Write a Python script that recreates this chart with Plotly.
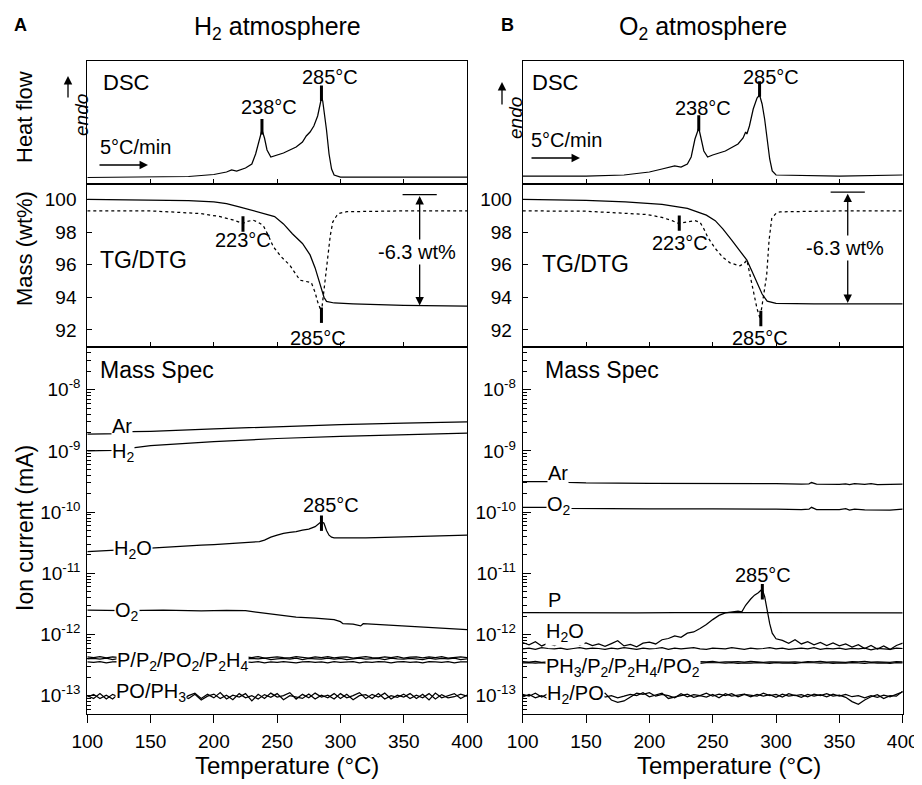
import plotly.graph_objects as go

# The page body has an 8px default margin: the figure is sized to fill the rest of the 922x785 window
OX, OY = 8, 8
W, H = 922 - OX, 785 - OY
FONT = "Liberation Sans, Arial, sans-serif"

# ---------------- DATA ----------------
# DSC (arbitrary heat-flow units)
T_dsc_A = [100, 150, 180, 200, 210, 214, 218, 225, 230, 233, 236, 238, 240, 242, 245, 250, 255, 260, 265, 270,
           273, 276, 279, 282, 284, 285, 286, 287, 289, 291, 293, 295, 298, 300, 350, 400]
dsc_A = [6.5, 6.8, 7.5, 9.5, 12, 14, 13, 16, 20, 30, 46, 54, 46, 34, 27, 29, 31, 34, 37, 42,
         48, 52, 58, 68, 80, 86, 83, 74, 54, 30, 15, 9, 7.5, 7, 7, 6.8]
T_dsc_B = [100, 150, 180, 200, 210, 220, 225, 230, 233, 236, 239, 241, 243, 246, 250, 260, 270, 274, 276, 277,
           279, 282, 285, 287, 289, 291, 293, 295, 297, 300, 350, 390, 400]
dsc_B = [8, 8, 9, 12, 15, 18, 17, 20, 27, 45, 56, 45, 33, 27, 29, 33, 40, 46, 52, 50,
         58, 75, 86, 89, 80, 65, 45, 25, 13, 9, 8, 8.5, 9]

# TG (solid) and DTG (dotted), wt%
T_tg_A = [100, 150, 180, 200, 210, 220, 230, 240, 248, 255, 262, 270, 276, 280, 284, 287, 289, 295, 310, 350, 400]
tg_A = [100.0, 99.98, 99.93, 99.85, 99.75, 99.55, 99.35, 99.15, 98.95, 98.5, 97.9, 97.3, 96.6, 95.8, 94.7, 94.0,
        93.75, 93.65, 93.6, 93.5, 93.45]
T_dtg_A = [100, 150, 189, 205, 215, 220.5, 223, 226, 231, 235, 239, 243, 247, 253, 260, 268, 274, 277, 280, 282,
           285, 287, 290, 292, 294, 297, 299, 305, 350, 400]
dtg_A = [99.3, 99.3, 99.14, 98.95, 98.75, 98.6, 98.53, 98.65, 98.73, 98.6, 98.4, 97.8, 97.1, 96.5, 95.97, 95.05,
         94.95, 94.9, 94.3, 93.72, 93.1, 94.5, 96.4, 97.8, 98.63, 99.0, 99.15, 99.25, 99.3, 99.3]

T_tg_B = [100, 150, 181, 210, 230, 245, 252, 258, 265, 271, 277, 281, 285, 289, 293, 300, 330, 400]
tg_B = [100.0, 99.95, 99.85, 99.7, 99.45, 99.04, 98.7, 98.2, 97.5, 96.9, 96.28, 95.6, 94.9, 94.2, 93.76, 93.62,
        93.6, 93.6]
T_dtg_B = [100, 150, 198, 210, 218, 223, 230, 236, 240, 243, 246, 252, 258, 264, 271.5, 275, 277, 280, 282, 285,
           287.4, 290, 292.6, 294.5, 296.6, 300, 303, 350, 400]
dtg_B = [99.3, 99.28, 99.08, 98.9, 98.7, 98.53, 98.62, 98.7, 98.6, 98.2, 97.7, 97.0, 96.45, 96.1, 95.93, 96.1,
         96.28, 95.2, 94.33, 93.3, 92.7, 94.0, 95.35, 97.5, 98.83, 99.15, 99.24, 99.3, 99.3]

# Mass spec, H2 atmosphere
T_ArA = [100, 127, 135, 150, 200, 250, 300, 350, 400]
Ar_A = [1.88e-9, 1.92e-9, 2.07e-9, 2.1e-9, 2.3e-9, 2.5e-9, 2.7e-9, 2.85e-9, 2.98e-9]
T_H2A = [100, 120, 136, 150, 200, 250, 300, 350, 400]
H2_A = [1.0e-9, 1.02e-9, 1.12e-9, 1.22e-9, 1.42e-9, 1.6e-9, 1.73e-9, 1.85e-9, 1.95e-9]
T_H2OA = [100, 110, 120, 130, 140, 150, 160, 170, 180, 190, 200, 210, 220, 230, 236, 240, 245, 250, 255, 260,
          265, 270, 275, 280, 283, 285, 287, 289, 291, 293, 295, 300, 320, 350, 380, 400]
H2O_A = [2.26e-11, 2.3e-11, 2.38e-11, 2.45e-11, 2.52e-11, 2.6e-11, 2.68e-11, 2.75e-11, 2.8e-11, 2.88e-11,
         2.95e-11, 3.05e-11, 3.18e-11, 3.32e-11, 3.3e-11, 3.5e-11, 3.9e-11, 4.2e-11, 4.5e-11, 4.65e-11,
         4.8e-11, 5.1e-11, 5.3e-11, 5.8e-11, 6.5e-11, 7.0e-11, 6.6e-11, 5.0e-11, 4.2e-11, 3.9e-11,
         3.8e-11, 3.78e-11, 3.8e-11, 3.95e-11, 4.1e-11, 4.2e-11]
T_O2A = [100, 130, 160, 190, 210, 225, 235, 245, 255, 265, 280, 295, 300, 302, 310, 316, 318, 330, 350, 370, 385, 400]
O2_A = [2.5e-12, 2.46e-12, 2.5e-12, 2.44e-12, 2.47e-12, 2.45e-12, 2.3e-12, 2.15e-12, 2.0e-12, 1.92e-12,
        1.85e-12, 1.75e-12, 1.62e-12, 1.5e-12, 1.48e-12, 1.38e-12, 1.5e-12, 1.45e-12, 1.4e-12, 1.32e-12,
        1.25e-12, 1.2e-12]

T5 = list(range(100, 401, 5))
# P / P2 / PO2 / P2H4 (units of 1e-13)
PA1 = [4.30, 4.20, 4.35, 4.15, 4.30, 4.25, 4.10, 4.30, 4.20, 4.35,
       4.15, 4.25, 4.30, 4.10, 4.25, 4.35, 4.20, 4.15, 4.30, 4.20,
       4.35, 4.10, 4.25, 4.30, 4.15, 4.30, 4.20, 4.35, 4.10, 4.25,
       4.30, 4.20, 4.15, 4.35, 4.25, 4.10, 4.30, 4.20, 4.35, 4.15,
       4.25, 4.30, 4.10, 4.25, 4.35, 4.20, 4.15, 4.30, 4.20, 4.35,
       4.10, 4.25, 4.30, 4.15, 4.30, 4.20, 4.35, 4.10, 4.25, 4.30,
       4.20]
PA2 = [4.00, 4.05, 3.95, 4.10, 3.90, 4.05, 4.00, 3.95, 4.10, 3.95,
       4.05, 3.90, 4.00, 4.10, 3.95, 4.00, 4.05, 3.90, 4.10, 4.00,
       3.95, 4.05, 4.00, 3.90, 4.10, 3.95, 4.05, 4.00, 4.10, 3.90,
       4.00, 4.05, 3.95, 4.10, 3.90, 4.05, 4.00, 3.95, 4.10, 3.95,
       4.05, 3.90, 4.00, 4.10, 3.95, 4.00, 4.05, 3.90, 4.10, 4.00,
       3.95, 4.05, 4.00, 3.90, 4.10, 3.95, 4.05, 4.00, 4.10, 3.90,
       4.00]
PA3 = [3.55, 3.50, 3.60, 3.45, 3.55, 3.60, 3.50, 3.55, 3.45, 3.60,
       3.50, 3.55, 3.60, 3.45, 3.55, 3.50, 3.60, 3.55, 3.45, 3.55,
       3.60, 3.50, 3.55, 3.45, 3.60, 3.55, 3.50, 3.60, 3.45, 3.55,
       3.50, 3.60, 3.55, 3.45, 3.55, 3.60, 3.50, 3.55, 3.45, 3.60,
       3.50, 3.55, 3.60, 3.45, 3.55, 3.50, 3.60, 3.55, 3.45, 3.55,
       3.60, 3.50, 3.55, 3.45, 3.60, 3.55, 3.50, 3.60, 3.45, 3.55,
       3.55]
# PO / PH3 (units of 1e-13)
POA1 = [1.00, 0.90, 1.08, 0.88, 1.05, 0.95, 1.10, 0.92, 1.02, 0.90,
        1.12, 0.85, 1.05, 0.95, 1.08, 0.88, 1.00, 1.10, 0.90, 1.05,
        0.92, 1.12, 0.88, 1.02, 0.95, 1.08, 0.82, 1.05, 0.90, 1.10,
        0.95, 1.00, 1.12, 0.88, 1.05, 0.92, 1.10, 0.95, 1.02, 0.88,
        1.08, 0.92, 1.00, 1.12, 0.90, 1.05, 0.95, 1.10, 0.88, 1.02,
        0.95, 1.08, 0.90, 1.05, 0.85, 1.10, 0.92, 1.00, 1.08, 0.90,
        1.02]
POA2 = [0.95, 1.05, 0.90, 1.02, 0.88, 1.08, 0.92, 1.00, 0.86, 1.06,
        0.94, 1.02, 0.88, 1.10, 0.92, 1.00, 0.90, 1.05, 0.85, 0.98,
        1.06, 0.90, 1.02, 0.86, 1.08, 0.92, 1.00, 0.88, 1.04, 0.94,
        1.08, 0.86, 1.00, 0.95, 0.90, 1.06, 0.88, 1.02, 0.92, 1.08,
        0.90, 1.05, 0.86, 1.00, 1.04, 0.90, 1.08, 0.88, 1.00, 0.94,
        1.06, 0.90, 1.02, 0.92, 1.08, 0.88, 1.04, 0.92, 0.96, 1.06,
        0.98]

# Mass spec, O2 atmosphere
T_ArB = [100, 125, 136, 150, 200, 250, 280, 300, 320, 326, 328, 332, 350, 355, 358, 362, 370, 375, 380, 390, 395, 400]
Ar_B = [3.16e-10, 3.16e-10, 3.06e-10, 3.0e-10, 2.95e-10, 2.93e-10, 2.98e-10, 2.92e-10, 2.88e-10, 2.9e-10,
        3.05e-10, 2.88e-10, 2.85e-10, 2.9e-10, 2.82e-10, 2.92e-10, 2.85e-10, 2.92e-10, 2.82e-10, 2.84e-10,
        2.82e-10, 2.88e-10]
T_O2B = [100, 125, 136, 150, 200, 250, 280, 300, 320, 326, 328, 332, 350, 355, 358, 362, 370, 380, 390, 400]
O2_B = [1.2e-10, 1.2e-10, 1.15e-10, 1.14e-10, 1.13e-10, 1.13e-10, 1.14e-10, 1.12e-10, 1.1e-10, 1.12e-10,
        1.2e-10, 1.1e-10, 1.1e-10, 1.14e-10, 1.08e-10, 1.12e-10, 1.09e-10, 1.08e-10, 1.08e-10, 1.12e-10]
T_PB = [100, 130, 160, 190, 220, 250, 280, 310, 340, 370, 395, 400]
P_B = [2.28e-12, 2.26e-12, 2.29e-12, 2.25e-12, 2.28e-12, 2.27e-12, 2.25e-12, 2.28e-12, 2.24e-12, 2.27e-12,
       2.22e-12, 2.26e-12]
T_H2OB = [100, 105, 110, 115, 120, 125, 130, 135, 140, 145, 150, 155, 160, 165, 170, 175, 180, 185, 190, 195,
          200, 205, 210, 215, 220, 225, 230, 235, 240, 245, 250, 255, 260, 265, 270, 273, 276, 280, 283, 286,
          289, 291, 293, 295, 297, 300, 305, 310, 315, 320, 325, 330, 335, 340, 345, 350, 355, 360, 365, 370,
          375, 380, 385, 390, 395, 400]
H2O_B = [7.4, 6.8, 7.6, 6.5, 7.2, 6.6, 7.5, 6.9, 7.8, 6.7, 7.3, 6.6, 7.0, 6.4, 7.1, 7.9, 6.5, 6.9, 6.3, 7.2,
         7.5, 7.0, 8.2, 8.6, 9.5, 9.0, 10.5, 11.0, 12.5, 14.5, 17.5, 20.5, 22.5, 23.0, 24.0, 23.5, 30.0, 38.0, 44.0, 48.0,
         55.0, 42.0, 25.0, 15.0, 10.5, 8.5, 8.0, 7.2, 8.2, 7.0, 7.6, 6.8, 7.4, 6.6, 7.3, 6.5, 7.0, 6.2, 6.8, 5.9,
         6.6, 5.8, 6.5, 5.7, 6.6, 7.2]
LB1 = [5.8, 6.0, 5.7, 6.1, 5.9, 5.8, 6.0, 5.7, 5.9, 6.1,
       5.8, 6.0, 5.9, 5.7, 6.0, 5.8, 6.1, 5.9, 5.7, 6.0,
       5.8, 5.9, 6.1, 5.7, 6.0, 5.8, 5.9, 6.1, 5.8, 5.7,
       6.0, 5.9, 5.8, 6.1, 5.9, 5.7, 6.0, 5.8, 5.9, 6.1,
       5.8, 6.0, 5.7, 5.9, 6.0, 5.8, 6.1, 5.7, 5.9, 5.8,
       6.0, 5.7, 5.9, 5.8, 6.0, 5.6, 5.9, 5.8, 5.7, 6.0,
       5.9]
PB1 = [3.60, 3.52, 3.62, 3.50, 3.58, 3.55, 3.62, 3.52, 3.60, 3.55,
       3.50, 3.60, 3.55, 3.62, 3.52, 3.58, 3.50, 3.60, 3.55, 3.62,
       3.52, 3.58, 3.55, 3.50, 3.62, 3.55, 3.58, 3.52, 3.60, 3.55,
       3.62, 3.50, 3.58, 3.55, 3.60, 3.52, 3.62, 3.55, 3.50, 3.58,
       3.55, 3.62, 3.52, 3.58, 3.50, 3.60, 3.55, 3.62, 3.52, 3.58,
       3.55, 3.50, 3.60, 3.55, 3.62, 3.52, 3.58, 3.55, 3.50, 3.60,
       3.55]
PB2 = [3.42, 3.48, 3.40, 3.46, 3.38, 3.45, 3.40, 3.48, 3.42, 3.38,
       3.46, 3.40, 3.44, 3.38, 3.48, 3.42, 3.45, 3.40, 3.46, 3.38,
       3.44, 3.40, 3.48, 3.42, 3.38, 3.46, 3.40, 3.44, 3.38, 3.48,
       3.42, 3.45, 3.40, 3.46, 3.38, 3.44, 3.40, 3.48, 3.42, 3.38,
       3.46, 3.40, 3.44, 3.38, 3.48, 3.42, 3.45, 3.40, 3.46, 3.38,
       3.44, 3.40, 3.48, 3.42, 3.38, 3.46, 3.40, 3.44, 3.38, 3.48,
       3.42]
HB1 = [1.05, 0.98, 1.10, 0.95, 1.08, 1.00, 1.12, 0.96, 1.05, 1.00,
       1.08, 0.95, 1.02, 1.10, 0.85, 0.78, 0.82, 0.95, 1.10, 1.05,
       1.12, 0.98, 1.05, 1.00, 0.92, 1.08, 0.96, 1.04, 1.00, 1.10,
       0.98, 1.06, 1.00, 1.08, 0.96, 1.05, 1.02, 0.98, 1.10, 1.00,
       1.05, 0.95, 1.08, 1.00, 1.04, 0.96, 1.06, 1.00, 1.08, 0.98,
       1.02, 0.94, 0.80, 0.72, 0.85, 0.96, 1.04, 0.90, 1.00, 0.98,
       1.18]
HB2 = [0.95, 1.05, 0.92, 1.00, 0.90, 1.06, 0.94, 1.02, 0.90, 1.05,
       0.95, 1.08, 1.12, 0.95, 1.00, 0.92, 0.98, 1.05, 1.00, 1.12,
       0.96, 1.04, 1.10, 0.90, 0.95, 1.02, 1.06, 0.94, 1.00, 0.95,
       1.05, 0.92, 1.08, 0.98, 1.02, 1.06, 0.96, 1.05, 0.98, 1.04,
       0.94, 1.06, 0.98, 1.02, 0.94, 1.05, 0.98, 1.04, 0.96, 1.06,
       0.98, 1.05, 0.96, 1.00, 0.92, 1.00, 0.94, 1.02, 0.96, 1.06,
       1.15]

# Peak markers (temperature, value)
dsc_marks_A = ([238, 285], [57.3, 90.7])
dsc_marks_B = ([239, 287], [61, 95])
dtg_marks_A = ([223, 285], [98.5, 92.9])
dtg_marks_B = ([223.6, 288], [98.55, 92.7])
ms_mark_A = ([285], [6.6e-11])
ms_mark_B = ([289.2], [5.0e-12])
mass_loss = 6.3

# ---------------- FIGURE ----------------
fig = go.Figure()
LW = 1.25


def line(x, y, ax, dash="solid", scale=1.0):
    fig.add_trace(go.Scatter(x=x, y=[v * scale for v in y], mode="lines",
                             line=dict(color="black", width=LW, dash=dash),
                             xaxis="x" + ax, yaxis="y" + ax, showlegend=False, hoverinfo="skip"))


def marks(m, ax):
    fig.add_trace(go.Scatter(x=m[0], y=m[1], mode="markers",
                             marker=dict(symbol="line-ns", size=11, line=dict(color="black", width=3)),
                             xaxis="x" + ax, yaxis="y" + ax, showlegend=False, hoverinfo="skip"))


# A: axes 1 (DSC), 2 (TG), 3 (MS); B: 4, 5, 6
line(T_dsc_A, dsc_A, "")
marks(dsc_marks_A, "")
line(T_tg_A, tg_A, "2")
line(T_dtg_A, dtg_A, "2", dash="dot")
marks(dtg_marks_A, "2")
line(T_ArA, Ar_A, "3")
line(T_H2A, H2_A, "3")
line(T_H2OA, H2O_A, "3")
line(T_O2A, O2_A, "3")
for s in (PA1, PA2, PA3, POA1, POA2):
    line(T5, s, "3", scale=1e-13)
marks(ms_mark_A, "3")

line(T_dsc_B, dsc_B, "4")
marks(dsc_marks_B, "4")
line(T_tg_B, tg_B, "5")
line(T_dtg_B, dtg_B, "5", dash="dot")
marks(dtg_marks_B, "5")
line(T_ArB, Ar_B, "6")
line(T_O2B, O2_B, "6")
line(T_PB, P_B, "6")
line(T_H2OB, H2O_B, "6", scale=1e-13)
for s in (LB1, PB1, PB2, HB1, HB2):
    line(T5, s, "6", scale=1e-13)
marks(ms_mark_B, "6")


def fx(x):
    return (x - OX) / W


def fy(y):
    return 1 - (y - OY) / H


XA = [fx(87.3), fx(467)]
XB = [fx(522.7), fx(902.7)]
Y_DSC = [fy(184), fy(61)]
Y_TG = [fy(347), fy(184)]
Y_MS = [fy(714), fy(347)]

tickfont = dict(family=FONT, size=19, color="black")
base_x = dict(range=[100, 400], showline=True, mirror=True, linecolor="black", linewidth=1,
              showgrid=False, zeroline=False, tickvals=[100, 150, 200, 250, 300, 350, 400],
              tickfont=tickfont, tickcolor="black", automargin=False)
ms_vals = [1e-13, 1e-12, 1e-11, 1e-10, 1e-9, 1e-8]
ms_text = ["10<sup>-13</sup>", "10<sup>-12</sup>", "10<sup>-11</sup>", "10<sup>-10</sup>",
           "10<sup>-9</sup>", "10<sup>-8</sup>"]

layout = dict(width=W, height=H, margin=dict(l=0, r=0, t=0, b=0, autoexpand=False),
              paper_bgcolor="white", plot_bgcolor="white", showlegend=False,
              font=dict(family=FONT, color="black"))

for i, (xd, row) in enumerate([(XA, 0), (XA, 1), (XA, 2), (XB, 0), (XB, 1), (XB, 2)]):
    n = "" if i == 0 else str(i + 1)
    xa = dict(base_x, domain=xd, anchor="y" + n)
    if row == 2:
        xa.update(ticks="outside", ticklen=8, showticklabels=True, ticklabelstandoff=2)
    else:
        xa.update(ticks="inside", ticklen=5, showticklabels=False)
    if row == 0:
        ya = dict(domain=Y_DSC, range=[0, 123], showticklabels=False, ticks="")
    elif row == 1:
        ya = dict(domain=Y_TG, range=[90.95, 100.95], tickvals=[92, 94, 96, 98, 100],
                  ticks="inside", ticklen=5, tickfont=tickfont, ticklabelstandoff=6)
    else:
        ya = dict(domain=Y_MS, type="log", range=[-13.3, -7.3], tickvals=ms_vals, ticktext=ms_text,
                  ticks="inside", ticklen=8, tickfont=tickfont, ticklabelstandoff=2,
                  minor=dict(ticks="inside", ticklen=4, dtick="D1", tickcolor="black", showgrid=False))
    ya.update(anchor="x" + n, showline=True, mirror=True, linecolor="black", linewidth=1,
              showgrid=False, zeroline=False, tickcolor="black", automargin=False)
    layout["xaxis" + n] = xa
    layout["yaxis" + n] = ya

fig.update_layout(**layout)

ann = []


def txt(x, y, s, size=20, **kw):
    d = dict(x=fx(x), y=fy(y), xref="paper", yref="paper", text=s, showarrow=False,
             font=dict(family=FONT, size=size, color="black"), xanchor="center", yanchor="middle")
    d.update(kw)
    ann.append(d)


def arrow(x0, y0, x1, y1):
    ann.append(dict(x=fx(x1), y=fy(y1), xref="paper", yref="paper", ax=x0 - x1, ay=y0 - y1, text="",
                    showarrow=True, arrowhead=2, arrowsize=1.3, arrowwidth=1.3, arrowcolor="black"))


WB = dict(bgcolor="white", borderpad=0)

# headers
txt(20, 25, "<b>A</b>", size=18)
txt(507, 25, "<b>B</b>", size=18)
txt(277, 28, "H<sub>2</sub> atmosphere", size=25)
txt(703, 28, "O<sub>2</sub> atmosphere", size=25)
# axis titles
txt(25, 117, "Heat flow", size=22, textangle=-90)
txt(25, 249, "Mass (wt%)", size=22, textangle=-90)
txt(25, 528, "Ion current (mA)", size=23, textangle=-90)
txt(287, 765, "Temperature (°C)", size=24)
txt(729, 765, "Temperature (°C)", size=24)

# DSC A
txt(126, 82, "DSC", size=22)
txt(269, 107, "238°C")
txt(330, 77, "285°C")
txt(135, 147, "5°C/min")
arrow(98, 165, 148, 165)
arrow(68, 99, 68, 76)
txt(81, 115, "<i>endo</i>", size=19, textangle=-90)
# DSC B
txt(555, 82, "DSC", size=22)
txt(703, 108, "238°C")
txt(771, 77, "285°C")
txt(566, 140, "5°C/min")
arrow(530, 158, 580, 158)
arrow(502, 106, 502, 82)
txt(515, 118, "<i>endo</i>", size=19, textangle=-90)

# TG A
txt(143, 260, "TG/DTG", size=23)
txt(243, 240, "223°C")
txt(318, 338, "285°C")
# TG B
txt(585, 264, "TG/DTG", size=23)
txt(680, 243, "223°C")
txt(760, 338, "285°C")

# mass-loss double arrows (data coords)
for (xr, yr, xt, ybar, half, ytxt) in [("x2", "y2", 362.6, 100.3, 13.5, 96.8),
                                        ("x5", "y5", 356.6, 100.45, 13.5, 97.0)]:
    ybot = ybar - 6.8
    ann.append(dict(x=xt, y=ybot, ax=xt, ay=ybar, xref=xr, yref=yr, axref=xr, ayref=yr, text="",
                    showarrow=True, arrowhead=2, startarrowhead=2, arrowside="end+start",
                    arrowsize=1.3, arrowwidth=1.3, arrowcolor="black"))
    ann.append(dict(x=xt - 2, y=ytxt, xref=xr, yref=yr, text="-%.1f wt%%" % mass_loss, showarrow=False,
                    font=dict(family=FONT, size=20, color="black"), bgcolor="white", borderpad=1))
    fig.add_shape(type="line", xref=xr, yref=yr, x0=xt - half, x1=xt + half, y0=ybar, y1=ybar,
                  line=dict(color="black", width=1.3))

# MS A
txt(157, 370, "Mass Spec", size=23)
txt(122, 426, "Ar", **WB)
txt(123, 452, "H<sub>2</sub>", **WB)
txt(133, 549, "H<sub>2</sub>O", **WB)
txt(331, 505, "285°C")
txt(127, 611, "O<sub>2</sub>", **WB)
txt(182, 661, "P/P<sub>2</sub>/PO<sub>2</sub>/P<sub>2</sub>H<sub>4</sub>", **WB)
txt(151, 692, "PO/PH<sub>3</sub>", **WB)
# MS B
txt(602, 370, "Mass Spec", size=23)
txt(558, 473, "Ar", **WB)
txt(559, 505, "O<sub>2</sub>", **WB)
txt(554, 600, "P")
txt(565, 632, "H<sub>2</sub>O", **WB)
txt(623, 667, "PH<sub>3</sub>/P<sub>2</sub>/P<sub>2</sub>H<sub>4</sub>/PO<sub>2</sub>", **WB)
txt(575, 694, "H<sub>2</sub>/PO", **WB)
txt(763, 575, "285°C")

fig.update_layout(annotations=ann)
fig.write_html("out.html")
